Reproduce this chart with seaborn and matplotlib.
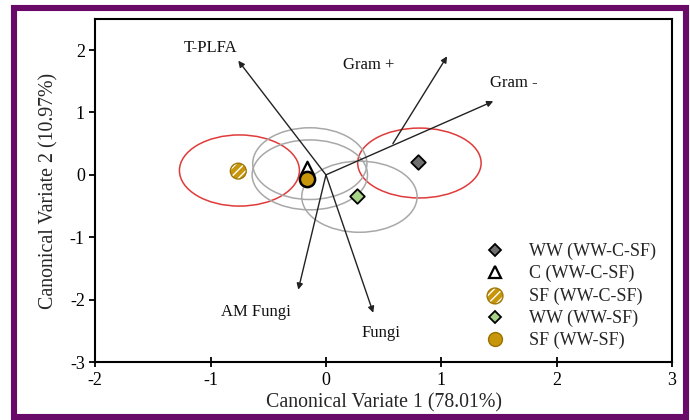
import matplotlib
matplotlib.use("Agg")
import matplotlib.pyplot as plt
import seaborn as sns
import pandas as pd
from matplotlib.patches import Ellipse, Rectangle
from matplotlib.lines import Line2D

# ---- data ----
groups = ["WW (WW-C-SF)", "C (WW-C-SF)", "SF (WW-C-SF)", "WW (WW-SF)", "SF (WW-SF)"]
cv1 = [0.80, -0.16, -0.76, 0.27, -0.16]
cv2 = [0.21, 0.11, 0.06, -0.34, -0.06]

ell_x = [-0.75, 0.81, -0.14, -0.14, 0.29]
ell_y = [0.07, 0.19, 0.18, 0.00, -0.35]
ell_w = [1.04, 1.07, 0.99, 1.00, 1.00]
ell_h = [1.14, 1.12, 1.15, 1.12, 1.14]
ell_kind = ["red", "red", "gray", "gray", "gray"]

vec_names = ["T-PLFA", "Gram +", "Gram -", "AM Fungi", "Fungi"]
vec_x0 = [0.0, 0.58, 0.0, 0.0, 0.0]
vec_y0 = [0.0, 0.50, 0.0, 0.0, 0.0]
vec_x1 = [-0.76, 1.05, 1.45, -0.24, 0.41]
vec_y1 = [1.83, 1.90, 1.18, -1.84, -2.21]
lab_x = [-1.00, 0.37, 1.63, -0.61, 0.48]
lab_y = [2.04, 1.76, 1.47, -2.19, -2.54]

xticks = [-2, -1, 0, 1, 2, 3]
yticks = [-3, -2, -1, 0, 1, 2]

df = pd.DataFrame({"cv1": cv1, "cv2": cv2, "group": groups})

# ---- style ----
sns.set_theme(style="ticks")
plt.rcParams["font.family"] = ["Liberation Serif", "DejaVu Serif"]
plt.rcParams["axes.unicode_minus"] = False

fig = plt.figure(figsize=(6.9, 4.2), dpi=100)
ax = fig.add_axes([0.138, 0.138, 0.836, 0.817])

# border
fig.patches.append(Rectangle((0.020, 0.007), 0.974, 0.974, transform=fig.transFigure,
                             fill=False, edgecolor="#690a69", linewidth=4.4, zorder=10))

# ellipses
for x, y, w, h, k in zip(ell_x, ell_y, ell_w, ell_h, ell_kind):
    col = "#e03a3a" if k == "red" else "#a8a8a8"
    ax.add_patch(Ellipse((x, y), w, h, fill=False, edgecolor=col, linewidth=1.1, zorder=1))

# vectors
for nm, x0, y0, x1, y1, lx, ly in zip(vec_names, vec_x0, vec_y0, vec_x1, vec_y1, lab_x, lab_y):
    ax.annotate("", xy=(x1, y1), xytext=(x0, y0),
                arrowprops=dict(arrowstyle="-|>", color="#222222", lw=1.0,
                                mutation_scale=9, shrinkA=0, shrinkB=0), zorder=2)
    ax.text(lx, ly, nm, ha="center", va="center", fontsize=12, color="#111111")

gold = "#c8960a"
styles = {
    "WW (WW-C-SF)": dict(marker="D", color="#6f6f6f", edgecolor="black", s=55, linewidth=1.3),
    "C (WW-C-SF)": dict(marker="^", color="white", edgecolor="black", s=95, linewidth=1.6),
    "SF (WW-C-SF)": dict(marker="o", color=gold, edgecolor="white", s=130, linewidth=0, hatch="////"),
    "WW (WW-SF)": dict(marker="D", color="#a8d48a", edgecolor="black", s=55, linewidth=1.3),
    "SF (WW-SF)": dict(marker="o", color=gold, edgecolor="black", s=120, linewidth=1.8),
}
for g in groups:
    sub = df[df["group"] == g]
    sns.scatterplot(data=sub, x="cv1", y="cv2", ax=ax, zorder=5, legend=False, **styles[g])
# outline for hatched marker
sub = df[df["group"] == "SF (WW-C-SF)"]
sns.scatterplot(data=sub, x="cv1", y="cv2", ax=ax, marker="o", facecolor="none",
                edgecolor="#a07808", s=130, linewidth=1.0, zorder=6, legend=False)

cols = ax.collections
handles = [
    Line2D([], [], ls="", marker="D", markersize=6.5, markerfacecolor="#6f6f6f", markeredgecolor="black", markeredgewidth=1.3),
    Line2D([], [], ls="", marker="^", markersize=9, markerfacecolor="white", markeredgecolor="black", markeredgewidth=1.6),
    (cols[2], cols[5]),
    Line2D([], [], ls="", marker="D", markersize=6.5, markerfacecolor="#a8d48a", markeredgecolor="black", markeredgewidth=1.3),
    Line2D([], [], ls="", marker="o", markersize=10, markerfacecolor=gold, markeredgecolor="#9a7000", markeredgewidth=1.0),
]
leg = ax.legend(handles, groups, loc="lower left", bbox_to_anchor=(0.643, 0.005), frameon=False,
                fontsize=13, handletextpad=0.9, labelspacing=0.28, borderaxespad=0.2,
                scatterpoints=1)

ax.set_xlim(-2, 3)
ax.set_ylim(-3, 2.5)
ax.set_xticks(xticks)
ax.set_yticks(yticks)
ax.set_xlabel("Canonical Variate 1 (78.01%)", fontsize=14.3, labelpad=3)
ax.set_ylabel("Canonical Variate 2 (10.97%)", fontsize=14.3, labelpad=8)
ax.tick_params(axis="both", labelsize=13, colors="black", length=4, width=1.3)
ax.tick_params(axis="x", direction="inout", length=7)
for sp in ax.spines.values():
    sp.set_visible(True)
    sp.set_color("black")
    sp.set_linewidth(1.5)

fig.savefig("out.png", dpi=100)
